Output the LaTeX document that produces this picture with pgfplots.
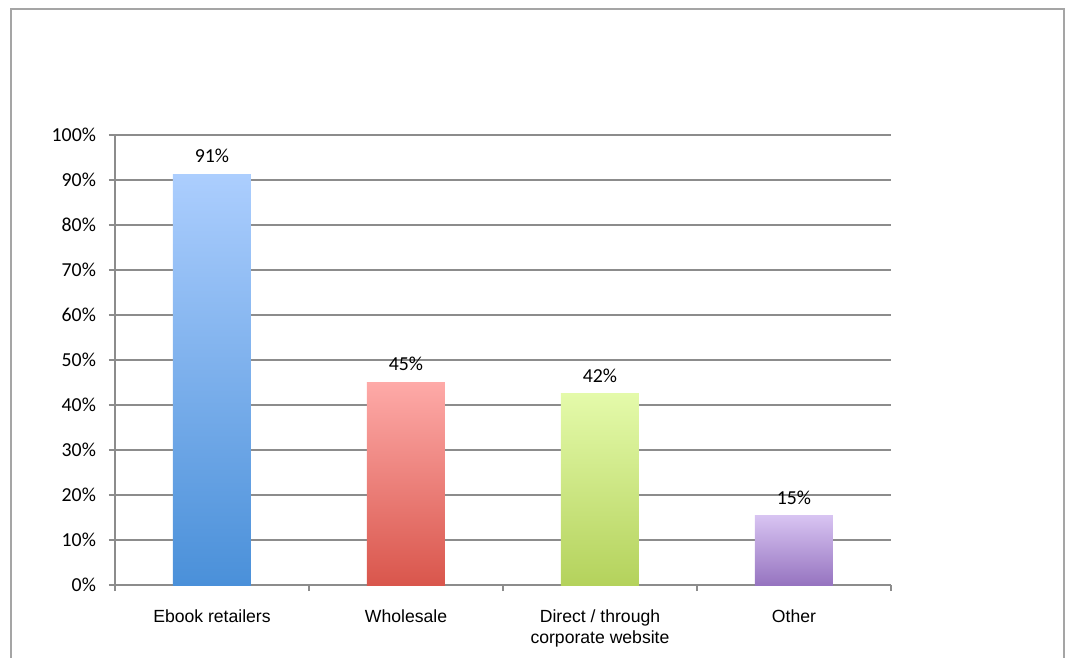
\documentclass[border=0pt]{standalone}
\usepackage{pgfplots}
\pgfplotsset{compat=1.18}
\usepackage{fontspec}
\setmainfont{Liberation Sans}
\newfontfamily\calib{Carlito}
\definecolor{gridc}{RGB}{140,140,140}
\definecolor{framec}{RGB}{165,165,165}
\definecolor{bluetop}{RGB}{172,206,254}
\definecolor{bluebot}{RGB}{74,144,217}
\definecolor{redtop}{RGB}{254,170,168}
\definecolor{redbot}{RGB}{217,86,76}
\definecolor{greentop}{RGB}{228,250,170}
\definecolor{greenbot}{RGB}{180,210,92}
\definecolor{purptop}{RGB}{216,196,242}
\definecolor{purpbot}{RGB}{150,116,192}
\begin{document}
\begin{tikzpicture}
\useasboundingbox (0,0) rectangle (535.5pt,-329pt);
\draw[framec, line width=1pt] (5.5pt,-330pt) -- (5.5pt,-4.5pt) -- (532pt,-4.5pt) -- (532pt,-330pt);
\begin{axis}[
  at={(57.5pt,-292.5pt)}, anchor=south west,
  scale only axis, width=388pt, height=225pt,
  xmin=-0.5, xmax=3.5, ymin=0, ymax=100,
  axis x line=bottom, axis y line=left,
  axis line style={-, gridc, line width=1pt},
  ymajorgrids, grid style={gridc, line width=1pt},
  ytick={0,10,...,100},
  yticklabel={\pgfmathprintnumber{\tick}\%},
  xtick={0,1,2,3},
  xticklabels={Ebook retailers, Wholesale, {Direct / through\\corporate website}, Other},
  minor xtick={-0.5,0.5,1.5,2.5,3.5},
  tick align=outside,
  major x tick style={draw=none},
  major tick length=3pt, minor tick length=3pt,
  tick style={gridc, line width=1pt},
  /pgf/number format/assume math mode=true,
  xticklabel style={font=\fontsize{8.8}{10.5}\selectfont, align=center, yshift=-6pt},
  yticklabel style={font=\calib\fontsize{9.9}{11}\selectfont, xshift=-3pt},
  ybar, bar width=39pt, bar shift=0pt,
  point meta=explicit symbolic,
  nodes near coords,
  every node near coord/.append style={font=\calib\fontsize{9.9}{11}\selectfont, yshift=2pt},
]
\addplot[draw=none, top color=bluetop, bottom color=bluebot] coordinates {(0,91.3) [91\%]};
\addplot[draw=none, top color=redtop, bottom color=redbot] coordinates {(1,45.1) [45\%]};
\addplot[draw=none, top color=greentop, bottom color=greenbot] coordinates {(2,42.5) [42\%]};
\addplot[draw=none, top color=purptop, bottom color=purpbot] coordinates {(3,15.5) [15\%]};
\end{axis}
\end{tikzpicture}
\end{document}
